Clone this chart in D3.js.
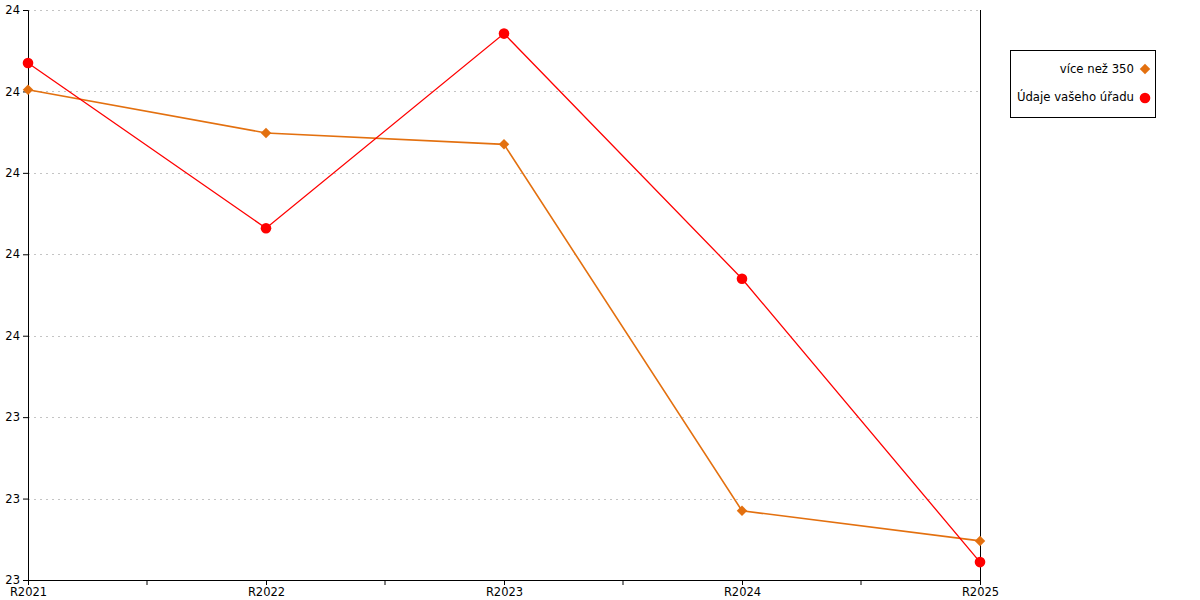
<!DOCTYPE html>
<html><head><meta charset="utf-8">
<script src="https://cdn.jsdelivr.net/npm/d3@7"></script>
<style>body{margin:0;background:#fff;} text{font-family:"DejaVu Sans",sans-serif;}</style>
</head><body><svg id="c" width="1200" height="600"></svg>
<script>
const categories = ["R2021","R2022","R2023","R2024","R2025"];
const seriesOrange = [23.902, 23.849, 23.835, 23.385, 23.348];
const seriesRed = [23.935, 23.732, 23.971, 23.670, 23.322];
const yTickValues = [23.3, 23.4, 23.5, 23.6, 23.7, 23.8, 23.9, 24.0];
const yTickLabels = ["23","23","23","24","24","24","24","24"];
const seriesNames = ["více než 350","Údaje vašeho úřadu"];

const svg = d3.select("#c");
const L = 28, R = 980, T = 10, B = 580;
const x = d3.scalePoint().domain(categories).range([L, R]);
const y = d3.scaleLinear().domain([23.3, 24.0]).range([B, T]);

// grid
svg.append("g").selectAll("line").data(yTickValues.slice(1)).join("line")
  .attr("x1", L).attr("x2", R).attr("y1", d => Math.round(y(d))+0.5).attr("y2", d => Math.round(y(d))+0.5)
  .attr("stroke", "#c4c4c4").attr("stroke-dasharray", "2,4");

// y axis
const ya = svg.append("g").attr("transform", `translate(${L},0)`)
  .call(d3.axisLeft(y).tickValues(yTickValues).tickSize(5).tickPadding(3)
  .tickFormat((d,i) => yTickLabels[i]));
ya.select(".domain").attr("stroke","#000");
ya.selectAll("text").style("font-size","11.5px").attr("fill","#000");

// right line
svg.append("line").attr("x1", R).attr("x2", R).attr("y1", T).attr("y2", B)
  .attr("stroke","#000").attr("shape-rendering","crispEdges");

// x axis
const xa = svg.append("g").attr("transform", `translate(0,${B})`)
  .call(d3.axisBottom(x).tickSize(5).tickPadding(3).tickSizeOuter(0));
xa.select(".domain").attr("stroke","#000");
xa.selectAll("text").style("font-size","11.5px").attr("fill","#000");
// minor ticks between categories
const mids = categories.slice(0,-1).map((c,i) => (x(c) + x(categories[i+1]))/2);
svg.append("g").selectAll("line").data(mids).join("line")
  .attr("x1", d=>d).attr("x2", d=>d).attr("y1", B).attr("y2", B+5).attr("stroke","#000");

const line = d3.line().x((d,i) => x(categories[i])).y(d => y(d));
const orange = "#e3700f", red = "#ff0000";
svg.append("path").datum(seriesOrange).attr("d", line).attr("fill","none").attr("stroke", orange).attr("stroke-width",1.6);
svg.append("path").datum(seriesRed).attr("d", line).attr("fill","none").attr("stroke", red).attr("stroke-width",1.3);

const diamond = d3.symbol().type(d3.symbolDiamond2).size(70);
svg.append("g").selectAll("path").data(seriesOrange).join("path")
  .attr("d", diamond).attr("transform", (d,i) => `translate(${x(categories[i])},${y(d)})`).attr("fill", orange);
svg.append("g").selectAll("circle").data(seriesRed).join("circle")
  .attr("cx", (d,i) => x(categories[i])).attr("cy", d => y(d)).attr("r", 5.3).attr("fill", red);

// legend
const lg = svg.append("g");
lg.append("rect").attr("x",1010.5).attr("y",50.5).attr("width",145).attr("height",67)
  .attr("fill","#fff").attr("stroke","#000");
lg.append("text").attr("x",1134).attr("y",73).attr("text-anchor","end").style("font-size","11.7px").text(seriesNames[0]);
lg.append("path").attr("d", diamond).attr("transform","translate(1145,69)").attr("fill", orange);
lg.append("text").attr("x",1134).attr("y",101).attr("text-anchor","end").style("font-size","11.7px").text(seriesNames[1]);
lg.append("circle").attr("cx",1145).attr("cy",98).attr("r",5.3).attr("fill", red);
</script></body></html>
